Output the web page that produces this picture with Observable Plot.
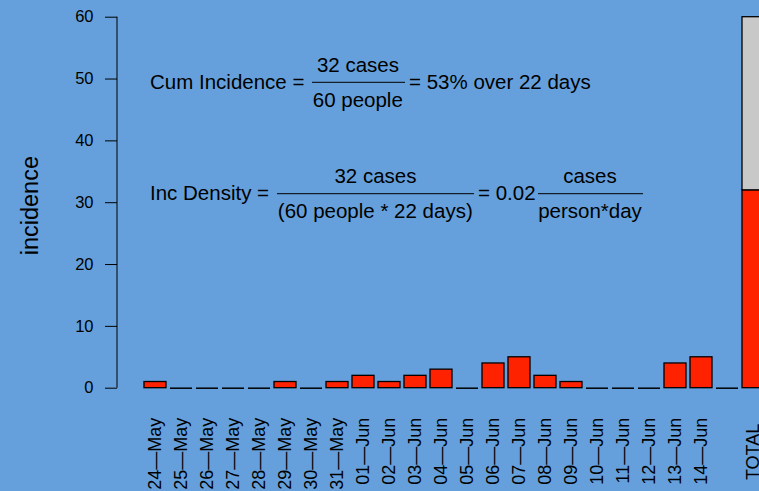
<!DOCTYPE html>
<html><head><meta charset="utf-8">
<script src="https://cdn.jsdelivr.net/npm/d3@7"></script>
<script src="https://cdn.jsdelivr.net/npm/@observablehq/plot@0.6"></script>
<style>html,body{margin:0;padding:0;background:#65a0dc;overflow:hidden}</style>
</head><body><div id="chart"></div>
<script>
// ---- data ----
const dates = ["24—May","25—May","26—May","27—May","28—May","29—May","30—May","31—May",
  "01—Jun","02—Jun","03—Jun","04—Jun","05—Jun","06—Jun","07—Jun","08—Jun","09—Jun",
  "10—Jun","11—Jun","12—Jun","13—Jun","14—Jun"];
const dailyCases = [1,0,0,0,0,1,0,1,2,1,2,3,0,4,5,2,1,0,0,0,4,5];
const blankLabel = "";
const blankCases = 0;
const totalLabel = "TOTAL";
const totalCases = 32;
const totalNonCases = 28;
const yTicks = [0,10,20,30,40,50,60];
const yLabel = "incidence";
const categories = [...dates, blankLabel, totalLabel];

const RED = "#ff2200", GRAY = "#c8c8c8";
const rows = dates.map((d,i)=>({cat:d, value:dailyCases[i], fill:RED}));
rows.push({cat:blankLabel, value:blankCases, fill:RED});
rows.push({cat:totalLabel, value:totalCases, fill:RED});
rows.push({cat:totalLabel, value:totalNonCases, fill:GRAY});

const FONT = "'Liberation Sans', Arial, Helvetica, sans-serif";

const chart = Plot.plot({
  width: 759, height: 491,
  marginLeft: 117, marginRight: 0, marginTop: 16.7, marginBottom: 103.3,
  style: {background: "#65a0dc", color: "black", fontFamily: FONT, fontSize: "16.5px", overflow: "hidden"},
  x: {domain: categories, range: [142, 766.6], paddingInner: 0.16, paddingOuter: 0, axis: null},
  y: {domain: [0, 60], ticks: yTicks, tickSize: 12, tickPadding: 12, label: null},
  marks: [
    Plot.barY(rows.filter(d => d.value > 0), {x: "cat", y: "value", fill: "fill", stroke: "black", strokeWidth: 1.3}),
    Plot.tickY(rows.filter(d => d.value === 0), {x: "cat", y: "value", stroke: "black", strokeWidth: 1.5}),
    Plot.text(dates, {x: d => d, frameAnchor: "bottom", rotate: -90, textAnchor: "end", lineAnchor: "middle", dy: 29.5, fontSize: 18, fill: "black"}),
    Plot.text([totalLabel], {x: d => d, frameAnchor: "bottom", rotate: -90, textAnchor: "end", lineAnchor: "middle", dy: 35.5, fontSize: 18, fill: "black"}),
    Plot.text([yLabel], {frameAnchor: "left", rotate: -90, dx: -87, dy: 3, textAnchor: "middle", lineAnchor: "middle", fontSize: 23.5, fill: "black"})
  ]
});
document.getElementById("chart").appendChild(chart);

// y axis line (R style, from 0 to 60)
const ys = chart.scale("y");
const svg = d3.select(chart);
svg.append("line").attr("x1", 117).attr("x2", 117)
  .attr("y1", ys.apply(0)).attr("y2", ys.apply(60))
  .attr("stroke", "black").attr("stroke-width", 1);

// formula annotations
const annFont = 20.5;
const annTexts = [
  {t: "Cum Incidence =", x: 150, y: 81.7, a: "start"},
  {t: "32 cases", x: 358, y: 64.5, a: "middle"},
  {t: "60 people", x: 357.8, y: 99.2, a: "middle"},
  {t: "= 53% over 22 days", x: 409, y: 81.7, a: "start"},
  {t: "Inc Density =", x: 150, y: 192.2, a: "start"},
  {t: "32 cases", x: 375.5, y: 175.5, a: "middle"},
  {t: "(60 people * 22 days)", x: 375.3, y: 210.5, a: "middle"},
  {t: "= 0.02", x: 478, y: 192.2, a: "start"},
  {t: "cases", x: 590, y: 175.5, a: "middle"},
  {t: "person*day", x: 590, y: 210.5, a: "middle"}
];
const annLines = [
  {x1: 312, x2: 405, y: 82.3},
  {x1: 277, x2: 474, y: 193.7},
  {x1: 538, x2: 643, y: 193.7}
];
const g = svg.append("g").attr("font-family", FONT).attr("font-size", annFont).attr("fill", "black");
g.selectAll("text").data(annTexts).join("text")
  .attr("x", d => d.x).attr("y", d => d.y + 0.358 * annFont)
  .attr("text-anchor", d => d.a).text(d => d.t);
g.selectAll("line").data(annLines).join("line")
  .attr("x1", d => d.x1).attr("x2", d => d.x2).attr("y1", d => d.y).attr("y2", d => d.y)
  .attr("stroke", "black").attr("stroke-width", 1);
</script>
</body></html>
